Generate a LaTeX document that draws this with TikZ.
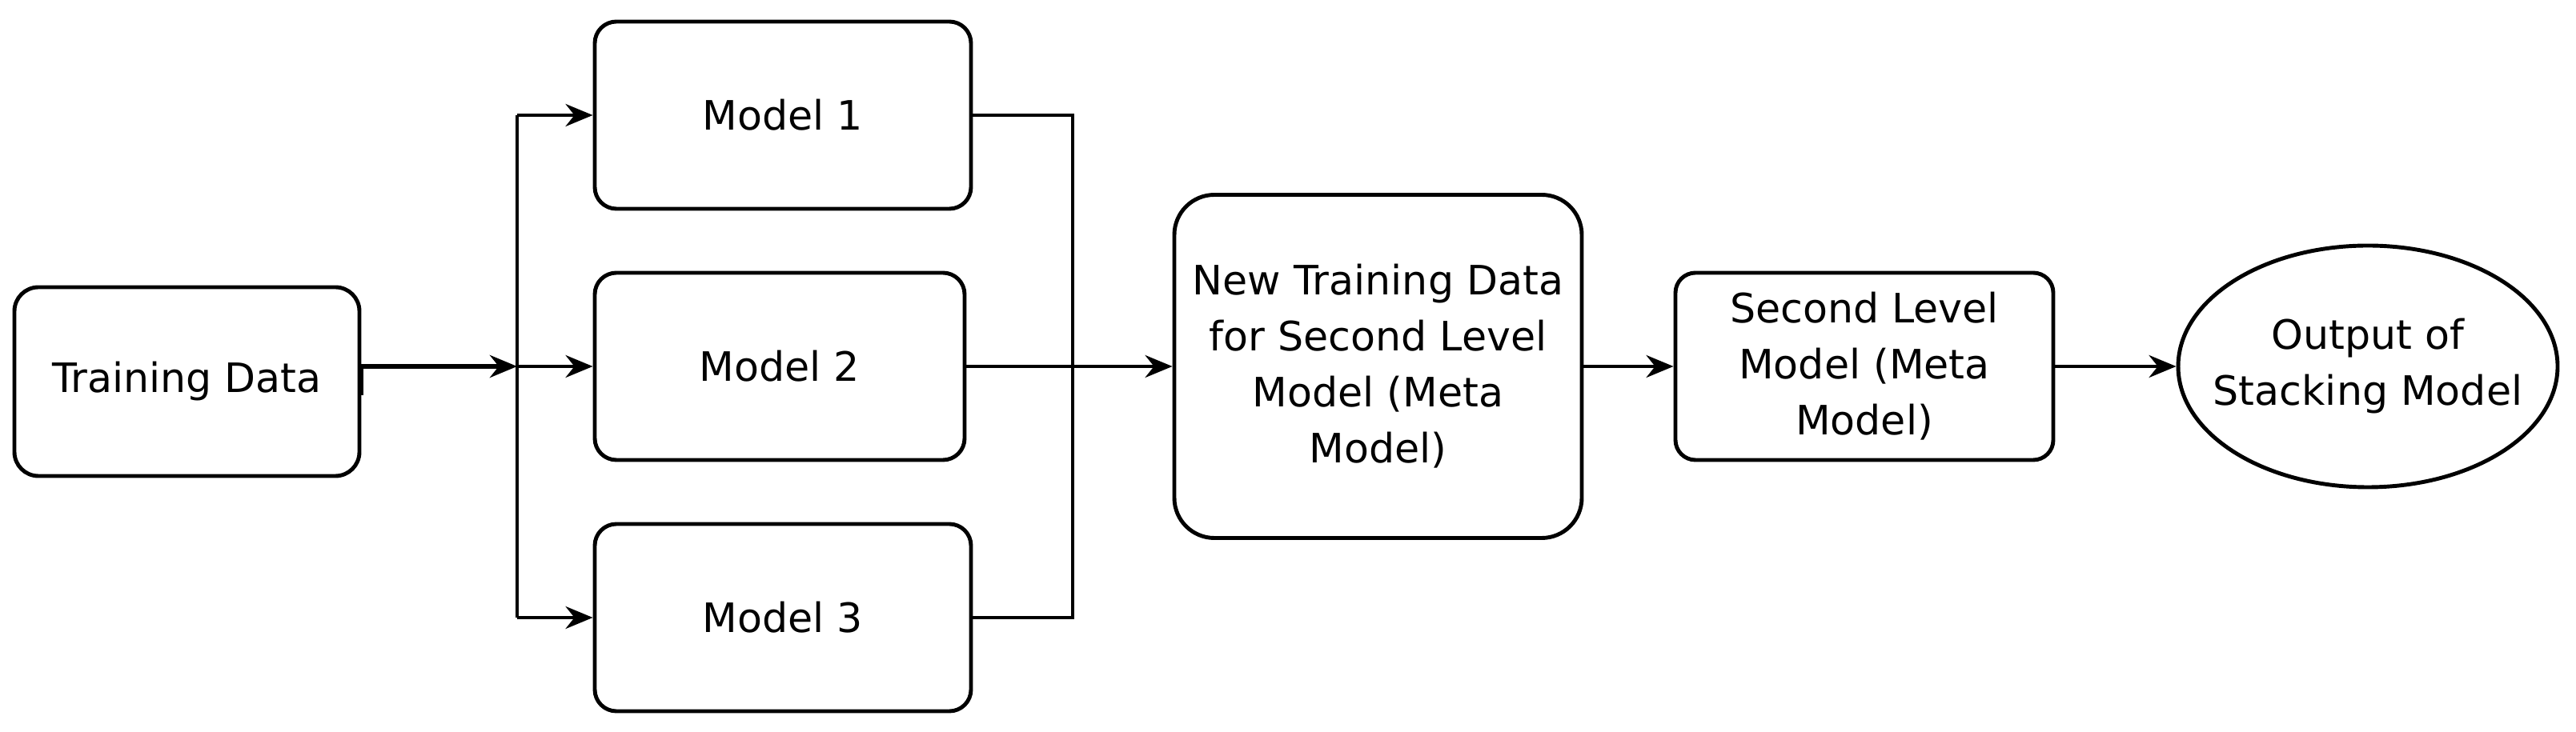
\documentclass[tikz,border=0pt]{standalone}
\usepackage{fontspec}
\setmainfont{DejaVu Sans}
\usetikzlibrary{arrows.meta,shapes.geometric}

\begin{document}
\begin{tikzpicture}[
font=\fontsize{14.4pt}{19.9pt}\selectfont,
box/.style={draw,line width=1.4pt,rounded corners=0.27cm,align=center,inner sep=0pt},
link/.style={line width=1.2pt},
arr/.style={link,-{Stealth[length=3.4mm,width=2.8mm]}}
]

\useasboundingbox (0,0) rectangle (32.18,9.15);

\node[box,rounded corners=0.3cm,minimum width=4.31cm,minimum height=2.36cm]
(T)
at (2.335,4.38)
{Training Data};

\node[box,minimum width=4.70cm,minimum height=2.34cm]
(M1)
at (9.78,7.71)
{Model 1};

\node[box,minimum width=4.62cm,minimum height=2.34cm]
(M2)
at (9.74,4.57)
{Model 2};

\node[box,minimum width=4.70cm,minimum height=2.34cm]
(M3)
at (9.78,1.43)
{Model 3};

\node[box,rounded corners=0.5cm,minimum width=5.09cm,minimum height=4.29cm]
(N)
at (17.215,4.57)
{New Training Data\\for Second Level\\Model (Meta\\Model)};

\node[box,rounded corners=0.25cm,minimum width=4.72cm,minimum height=2.34cm]
(S)
at (23.29,4.57)
{Second Level\\Model (Meta\\Model)};

\node[draw,ellipse,line width=1.4pt,align=center,inner xsep=-0.3cm,inner ysep=0pt,minimum width=4.74cm,minimum height=3.02cm]
(O)
at (29.58,4.57)
{Output of\\Stacking Model};

% branch points
\coordinate (J) at (6.46,4.57);
\coordinate (K) at (13.40,4.57);

\draw[arr,line width=1.6pt]
(T.east |- J)
--
(J);

\draw[line width=1.6pt]
(T.east |- J)
--
++(0,-0.36);

\draw[link]
(J |- M1)
--
(J |- M3);

\draw[arr]
(J |- M1)
--
(M1.west);

\draw[arr]
(J)
--
(M2.west);

\draw[arr]
(J |- M3)
--
(M3.west);

\draw[link]
(M1.east)
--
(K |- M1)
--
(K |- M3)
--
(M3.east);

\draw[arr]
(M2.east)
--
(N.west);

\draw[arr]
(N.east)
--
(S.west);

\draw[arr]
(S.east)
--
(O.west);

\end{tikzpicture}
\end{document}
